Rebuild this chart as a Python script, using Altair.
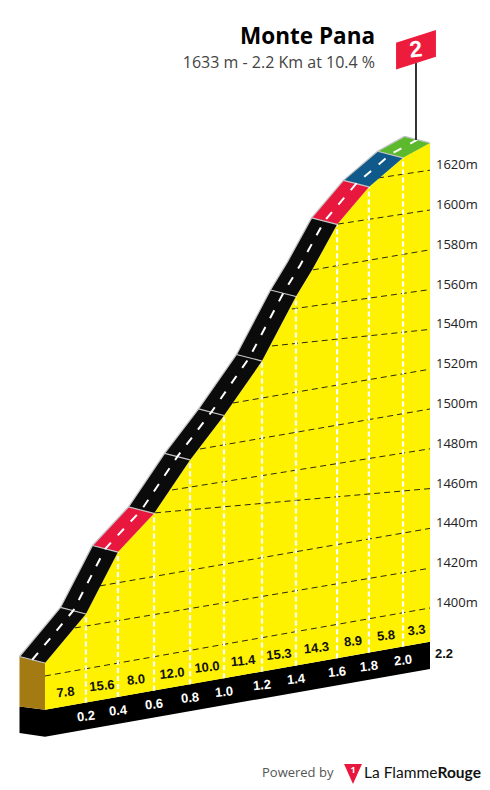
import altair as alt
import pandas as pd
import numpy as np

# ---- values ----
TOTAL_KM = 2.2
SKEW = 15.53          # metres of drawn rise per km (perspective of the base line)
BASE_M = 1383.0
BAND_M = 13.6
BACK_KM = 0.1457      # depth of the road
BACK_M = 3.3
W, H = 474, 776

tick_km = [0.0, 0.234, 0.417, 0.623, 0.829, 1.023, 1.24, 1.434, 1.669, 1.851, 2.046, 2.2]
tick_elev = [1406.5, 1427.5, 1455.8, 1472.0, 1495.7, 1515.0, 1539.0, 1568.4, 1601.0, 1617.0, 1628.6, 1633.7]
extra_km = [1.531]
extra_elev = [1581.0]
km_labels = ["0.2", "0.4", "0.6", "0.8", "1.0", "1.2", "1.4", "1.6", "1.8", "2.0"]
gradients = ["7.8", "15.6", "8.0", "12.0", "10.0", "11.4", "15.3", "14.3", "8.9", "5.8", "3.3"]
seg_colors = ["#0b0b0b", "#0b0b0b", "#e8173e", "#0b0b0b", "#0b0b0b", "#0b0b0b", "#0b0b0b", "#0b0b0b",
              "#e8173e", "#0f5a8a", "#5cb82c"]
grid_elev = [1400, 1420, 1440, 1460, 1480, 1500, 1520, 1540, 1560, 1580, 1600, 1620]
grid_start_km = [0.0, 0.171, 0.314, 0.629, 0.726, 0.886, 1.074, 1.297, 1.411, 1.531, 1.674, 1.903]
grid_start_elev = [1400.0, 1421.5, 1440.4, 1472.2, 1482.2, 1500.3, 1520.5, 1545.7, 1562.5, 1580.3, 1601.1, 1620.7]

YELLOW = "#fff200"
BROWN = "#a47a12"

x_scale = alt.Scale(domain=[-0.2114, -0.2114 + W / 175], range=[0, W], nice=False, zero=False)
y_scale = alt.Scale(domain=[1701.5 - H / 1.99, 1701.5], range=[H, 0], nice=False, zero=False)
X = alt.X("x:Q", scale=x_scale, axis=None)
Y = alt.Y("y:Q", scale=y_scale, axis=None)


def proj(km, elev):
    return elev - SKEW * (TOTAL_KM - km)


def poly(points, fill):
    d = pd.DataFrame([{"x": a, "y": b, "i": n} for n, (a, b) in enumerate(points)])
    return alt.Chart(d).mark_line(filled=True, fill=fill, strokeWidth=0, interpolate="linear-closed").encode(
        x=X, y=Y, order="i:Q")


def path(points, **kw):
    d = pd.DataFrame([{"x": a, "y": b, "i": n} for n, (a, b) in enumerate(points)])
    return alt.Chart(d).mark_line(**kw).encode(x=X, y=Y, order="i:Q")


def text(rows, **kw):
    d = pd.DataFrame([{"x": a, "y": b, "t": t} for a, b, t in rows])
    return alt.Chart(d).mark_text(**kw).encode(x=X, y=Y, text="t:N")


# merged profile
prof = sorted(zip(tick_km + extra_km, tick_elev + extra_elev))
p_km = [a for a, _ in prof]
p_el = [b for _, b in prof]
front = [(a, proj(a, b)) for a, b in prof]


def back(a, e):
    return (a - BACK_KM, proj(a, e) + BACK_M)


layers = []
# black base band
layers.append(poly([(0, proj(0, BASE_M)), (TOTAL_KM, proj(TOTAL_KM, BASE_M)),
                    (TOTAL_KM, proj(TOTAL_KM, BASE_M - BAND_M)), (0, proj(0, BASE_M - BAND_M)),
                    (-BACK_KM, proj(0, BASE_M - BAND_M) + 1.9), (-BACK_KM, proj(0, BASE_M) + 1.7)], "#000000"))
# brown side wall
layers.append(poly([(-BACK_KM, proj(0, tick_elev[0]) + BACK_M), (0, proj(0, tick_elev[0])),
                    (0, proj(0, BASE_M)), (-BACK_KM, proj(0, BASE_M) + 1.7)], BROWN))
# yellow face
area_df = pd.DataFrame({"x": p_km, "y": [f[1] for f in front], "y2": [proj(a, BASE_M) for a in p_km]})
layers.append(alt.Chart(area_df).mark_area(color=YELLOW).encode(x=X, y=Y, y2="y2:Q"))

# elevation grid
for e, sk, se in zip(grid_elev, grid_start_km, grid_start_elev):
    layers.append(path([(sk, proj(sk, se)), (TOTAL_KM, proj(TOTAL_KM, e))],
                       color="#2a2a10", strokeWidth=1, strokeDash=[6, 4]))
# km rules
for a, b in zip(tick_km[1:-1], tick_elev[1:-1]):
    layers.append(path([(a, proj(a, BASE_M)), (a, proj(a, b))],
                       color="#ffffff", strokeWidth=2.2, strokeDash=[5, 3]))

# road segments
for n, c in enumerate(seg_colors):
    k0, k1 = tick_km[n], tick_km[n + 1]
    seg = [(a, b) for a, b in prof if k0 <= a <= k1]
    pts = [(a, proj(a, b)) for a, b in seg] + [back(a, b) for a, b in reversed(seg)]
    layers.append(poly(pts, c))
# back edge
layers.append(path([back(a, b) for a, b in prof], color="#c4c4c4", strokeWidth=1.3))
# separators
for a, b in zip(tick_km, tick_elev):
    layers.append(path([(a, proj(a, b)), back(a, b)], color="#c4c4c4", strokeWidth=1.2))
# centre dashes
layers.append(path([(a - BACK_KM / 2, proj(a, b) + BACK_M / 2) for a, b in prof],
                   color="#ffffff", strokeWidth=2, strokeDash=[9, 10]))

# flag
POLE_KM = 2.12
layers.append(path([(POLE_KM, 1635.2), (POLE_KM, 1673.9)], color="#000000", strokeWidth=1.6))
layers.append(poly([(2.006, 1684.1), (2.234, 1690.5), (2.234, 1677.0), (2.006, 1670.6)], "#ed1c3c"))
layers.append(text([(POLE_KM, 1680.4, "2")], font="Liberation Sans", fontWeight="bold", fontSize=23,
                   color="#ffffff", align="center", baseline="middle", angle=354))

# labels
mids = [(tick_km[i] + tick_km[i + 1]) / 2 for i in range(len(gradients))]
layers.append(text([(m, proj(m, BASE_M + 6.9), g) for m, g in zip(mids, gradients)],
                   font="Liberation Sans", fontWeight="bold", fontSize=13, color="#111111",
                   align="center", baseline="middle", angle=354))
layers.append(text([(a, proj(a, BASE_M - 7), l) for a, l in zip(tick_km[1:-1], km_labels)],
                   font="Liberation Sans", fontWeight="bold", fontSize=13, color="#ffffff",
                   align="center", baseline="middle", angle=354))
layers.append(text([(TOTAL_KM, BASE_M, "2.2")], font="Liberation Sans", fontWeight="bold", fontSize=13,
                   color="#111111", align="left", baseline="middle", dx=5, dy=12))
layers.append(text([(TOTAL_KM, e, f"{e}m") for e in grid_elev], font="Open Sans", fontSize=13,
                   color="#222222", align="left", baseline="middle", dx=6, dy=-5))

# titles
layers.append(text([(1.886, 1686.9, "Monte Pana")], font="Open Sans", fontWeight="bold", fontSize=22.5,
                   color="#000000", align="right", baseline="middle"))
layers.append(text([(1.886, 1673.9, "1633 m - 2.2 Km at 10.4 %")], font="Open Sans", fontSize=16,
                   color="#444444", align="right", baseline="middle"))

# footer
layers.append(text([(1.24, 1317, "Powered by")], font="Open Sans", fontSize=13, color="#555555",
                   align="left", baseline="middle"))
layers.append(poly([(1.709, 1321.6), (1.811, 1321.6), (1.76, 1311.6)], "#e8173e"))
layers.append(text([(1.76, 1318.6, "1")], font="Open Sans", fontWeight="bold", fontSize=9, color="#ffffff",
                   align="center", baseline="middle"))
layers.append(text([(1.823, 1317, "La Flamme")], font="Lato", fontSize=15.5, color="#111111",
                   align="left", baseline="middle"))
layers.append(text([(2.243, 1317, "Rouge")], font="Lato", fontWeight="bold", fontSize=15.5, color="#111111",
                   align="left", baseline="middle"))

chart = alt.layer(*layers).properties(
    width=W, height=H, padding=0, autosize=alt.AutoSizeParams(type="none")
).configure_view(stroke=None).resolve_scale(x="shared", y="shared")

chart.save("out.html", embed_options={"renderer": "svg", "actions": False})
